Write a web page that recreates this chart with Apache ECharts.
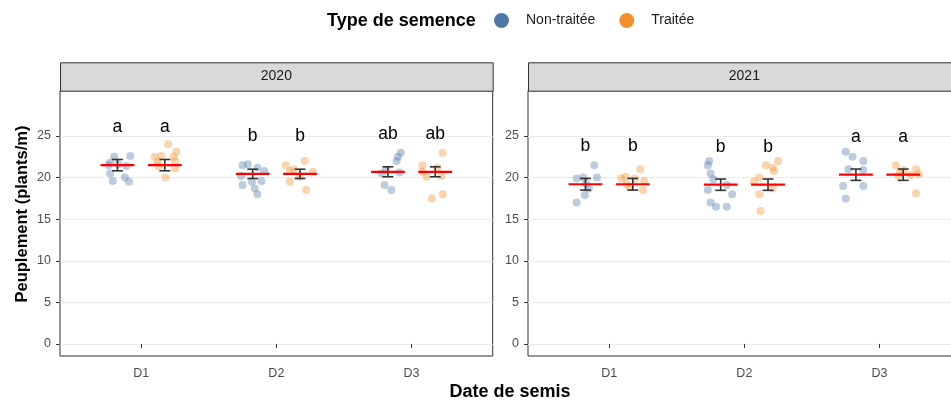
<!DOCTYPE html>
<html>
<head>
<meta charset="utf-8">
<script src="https://cdn.jsdelivr.net/npm/echarts@6/dist/echarts.min.js"></script>
<style>
  html, body { margin: 0; padding: 0; background: #ffffff; }
  #chart { width: 951px; height: 401px; }
</style>
</head>
<body>
<div id="chart"></div>
<script>
// ---- data ----------------------------------------------------------------
const years = ['2020', '2021'];
const dates = ['D1', 'D2', 'D3'];
const seedTypes = ['Non-traitée', 'Traitée'];
const yTicks = [0, 5, 10, 15, 20, 25];

// plot observations: [date index (1..3), horizontal jitter, plants/m]
const obs2020Untreated = [
  [1, -0.025, 22.5], [1, 0.095, 22.6], [1, -0.065, 21.5], [1, 0.005, 21.6], [1, -0.055, 20.5],
  [1, 0.055, 20.0], [1, -0.035, 19.6], [1, 0.085, 19.5], [1, -0.055, 21.8], [1, 0.065, 21.4],
  [2, -0.075, 21.5], [2, -0.035, 21.6], [2, 0.035, 21.2], [2, 0.085, 20.8], [2, -0.085, 20.2],
  [2, -0.075, 19.1], [2, -0.005, 19.5], [2, 0.065, 19.6], [2, 0.015, 18.7], [2, 0.035, 18.0],
  [3, 0.095, 23.0], [3, 0.075, 22.5], [3, 0.065, 22.0], [3, 0.085, 20.6], [3, -0.045, 20.5],
  [3, -0.015, 20.9], [3, -0.025, 19.1], [3, 0.025, 18.5]
];
const obs2020Treated = [
  [1, 0.025, 24.0], [1, 0.085, 23.1], [1, -0.075, 22.5], [1, -0.025, 22.6], [1, 0.065, 22.5],
  [1, -0.055, 21.9], [1, 0.075, 22.0], [1, -0.045, 21.4], [1, 0.075, 21.1], [1, 0.005, 20.0],
  [2, -0.105, 21.5], [2, 0.035, 22.0], [2, -0.075, 20.8], [2, 0.095, 20.7], [2, -0.005, 20.1],
  [2, -0.075, 19.5], [2, 0.045, 18.5], [2, -0.045, 21.0],
  [3, 0.055, 23.0], [3, -0.095, 21.5], [3, 0.015, 21.2], [3, -0.065, 20.1], [3, 0.045, 20.2],
  [3, 0.055, 18.0], [3, -0.025, 17.5], [3, -0.095, 20.7]
];
const obs2021Untreated = [
  [1, 0.065, 21.5], [1, -0.065, 19.9], [1, -0.015, 20.0], [1, 0.085, 20.0], [1, 0.025, 18.7],
  [1, -0.005, 17.9], [1, -0.065, 17.0], [1, 0.005, 19.3],
  [2, -0.085, 22.0], [2, -0.095, 21.5], [2, -0.075, 20.5], [2, -0.055, 19.8], [2, -0.095, 18.5],
  [2, 0.085, 18.0], [2, -0.075, 17.0], [2, -0.035, 16.5], [2, 0.045, 16.5], [2, 0.045, 19.1],
  [3, -0.075, 23.1], [3, -0.025, 22.5], [3, 0.055, 22.0], [3, -0.055, 21.0], [3, 0.055, 20.9],
  [3, -0.095, 19.0], [3, 0.055, 19.0], [3, -0.075, 17.5]
];
const obs2021Treated = [
  [1, 0.055, 21.0], [1, -0.055, 20.1], [1, -0.085, 19.9], [1, 0.085, 19.6], [1, -0.045, 19.2],
  [1, -0.025, 18.9], [1, 0.075, 18.5], [1, 0.015, 19.9],
  [2, 0.075, 22.0], [2, -0.015, 21.5], [2, 0.035, 21.2], [2, 0.045, 20.8], [2, -0.065, 20.0],
  [2, -0.105, 19.5], [2, 0.035, 18.7], [2, -0.065, 18.0], [2, -0.055, 16.0],
  [3, -0.055, 21.5], [3, 0.095, 21.0], [3, -0.035, 20.2], [3, 0.055, 20.3], [3, 0.095, 18.1],
  [3, 0.005, 20.9], [3, -0.025, 20.6], [3, 0.115, 20.4]
];

// estimated means, standard errors and group letters per sowing date
const means2020 = [21.5, 20.45, 20.7];
const se2020 = [0.68, 0.56, 0.6];
const letters2020 = ['a', 'b', 'ab'];
const means2021 = [19.2, 19.15, 20.35];
const se2021 = [0.7, 0.68, 0.68];
const letters2021 = ['b', 'b', 'a'];

// ---- styling / layout ----------------------------------------------------
const colors = ['#4E79A7', '#F28E2B'];
const FONT = 'Liberation Sans, Arial, Helvetica, sans-serif';
const dodge = [-0.175, 0.175];
const crossHalf = 0.125;   // half width of the red mean bar
const capHalf = 0.04;      // half width of the error-bar caps
const letterLift = 4.55;   // letters sit this far above the mean

const panelLeft = [60, 528];
const panelTop = 90.7;
const panelWidth = 432.7;
const panelHeight = 265.3;
const stripTop = 62.3;

const obsByYear = [[obs2020Untreated, obs2020Treated], [obs2021Untreated, obs2021Treated]];
const statsByYear = [
  { means: means2020, se: se2020, letters: letters2020 },
  { means: means2021, se: se2021, letters: letters2021 }
];

const grids = [], xAxes = [], yAxes = [], series = [], graphics = [];

years.forEach((yr, i) => {
  grids.push({
    left: panelLeft[i], top: panelTop, width: panelWidth, height: panelHeight,
    show: true, borderColor: '#333333', borderWidth: 1, backgroundColor: '#ffffff',
    containLabel: false, outerBoundsMode: 'none'
  });
  xAxes.push({
    type: 'value', gridIndex: i, min: 0.4, max: 3.6,
    axisLine: { show: false },
    splitLine: { show: false },
    axisTick: { show: true, customValues: [1, 2, 3], length: 4, lineStyle: { color: '#333333', width: 1 } },
    axisLabel: {
      customValues: [1, 2, 3], formatter: v => dates[Math.round(v) - 1],
      color: '#4d4d4d', fontSize: 12.5, fontFamily: FONT, margin: 11
    }
  });
  yAxes.push({
    type: 'value', gridIndex: i, min: -1.45, max: 30.45,
    axisLine: { show: false },
    axisTick: { show: true, customValues: yTicks, length: 4, lineStyle: { color: '#333333', width: 1 } },
    axisLabel: { customValues: yTicks, color: '#4d4d4d', fontSize: 12.5, fontFamily: FONT, margin: 9 },
    splitLine: { show: true, lineStyle: { color: '#ebebeb', width: 1 } }
  });

  // jittered observations
  seedTypes.forEach((name, t) => {
    series.push({
      type: 'scatter', name: name, xAxisIndex: i, yAxisIndex: i,
      symbol: 'circle', symbolSize: 8,
      itemStyle: { color: colors[t], opacity: 0.38 },
      emphasis: { disabled: true },
      data: obsByYear[i][t].map(o => [o[0] + dodge[t] + o[1], o[2]]),
      z: 2
    });
  });

  // mean bar, error bar and group letter for each date and seed type
  const st = statsByYear[i];
  const summary = [];
  dates.forEach((d, k) => {
    dodge.forEach(off => {
      summary.push([k + 1 + off, st.means[k], st.means[k] - st.se[k], st.means[k] + st.se[k], k]);
    });
  });
  series.push({
    type: 'custom', xAxisIndex: i, yAxisIndex: i, z: 5, silent: true,
    data: summary,
    renderItem: (params, api) => {
      const x = api.value(0), m = api.value(1), lo = api.value(2), hi = api.value(3);
      const k = api.value(4);
      const pLo = api.coord([x, lo]), pHi = api.coord([x, hi]);
      const cl = api.coord([x - capHalf, lo]), cr = api.coord([x + capHalf, lo]);
      const ml = api.coord([x - crossHalf, m]), mr = api.coord([x + crossHalf, m]);
      const pTxt = api.coord([x, m + letterLift]);
      const errStyle = { stroke: '#333333', lineWidth: 1.6 };
      return {
        type: 'group',
        children: [
          { type: 'line', shape: { x1: pLo[0], y1: pLo[1], x2: pHi[0], y2: pHi[1] }, style: errStyle },
          { type: 'line', shape: { x1: cl[0], y1: pLo[1], x2: cr[0], y2: pLo[1] }, style: errStyle },
          { type: 'line', shape: { x1: cl[0], y1: pHi[1], x2: cr[0], y2: pHi[1] }, style: errStyle },
          { type: 'line', shape: { x1: ml[0], y1: ml[1], x2: mr[0], y2: mr[1] }, style: { stroke: '#ff0000', lineWidth: 2.2 } },
          { type: 'text', x: pTxt[0], y: pTxt[1],
            style: { text: st.letters[k], fill: '#000000', font: '17.5px ' + FONT, align: 'center', verticalAlign: 'middle' } }
        ]
      };
    }
  });

  // facet strip
  graphics.push({
    type: 'rect', left: panelLeft[i], top: stripTop,
    shape: { width: panelWidth, height: panelTop - stripTop },
    style: { fill: '#d9d9d9', stroke: '#333333', lineWidth: 1 }, z: 10
  });
  graphics.push({
    type: 'text', x: panelLeft[i] + panelWidth / 2, y: (stripTop + panelTop) / 2,
    style: { text: yr, fill: '#1a1a1a', font: '14px ' + FONT, align: 'center', verticalAlign: 'middle' }, z: 11
  });
});

// legend title and axis titles
graphics.push({
  type: 'text', x: 327, y: 21,
  style: { text: 'Type de semence', fill: '#000000', font: 'bold 18px ' + FONT, align: 'left', verticalAlign: 'middle' }
});
graphics.push({
  type: 'text', x: 510, y: 392,
  style: { text: 'Date de semis', fill: '#000000', font: 'bold 18px ' + FONT, align: 'center', verticalAlign: 'middle' }
});
graphics.push({
  type: 'text', x: 22, y: 214, rotation: Math.PI / 2,
  style: { text: 'Peuplement (plants/m)', fill: '#000000', font: 'bold 16.5px ' + FONT, align: 'center', verticalAlign: 'middle' }
});

const chart = echarts.init(document.getElementById('chart'), null, { renderer: 'canvas' });
chart.setOption({
  animation: false,
  backgroundColor: '#ffffff',
  textStyle: { fontFamily: FONT },
  legend: {
    data: seedTypes, left: 494, top: 13, orient: 'horizontal', padding: 0,
    icon: 'circle', itemWidth: 15, itemHeight: 15, itemGap: 24,
    itemStyle: { opacity: 1 },
    textStyle: { fontSize: 14, color: '#1a1a1a', fontFamily: FONT, padding: [0, 0, 0, 12] },
    selectedMode: false
  },
  grid: grids,
  xAxis: xAxes,
  yAxis: yAxes,
  series: series,
  graphic: graphics
});
</script>
</body>
</html>
